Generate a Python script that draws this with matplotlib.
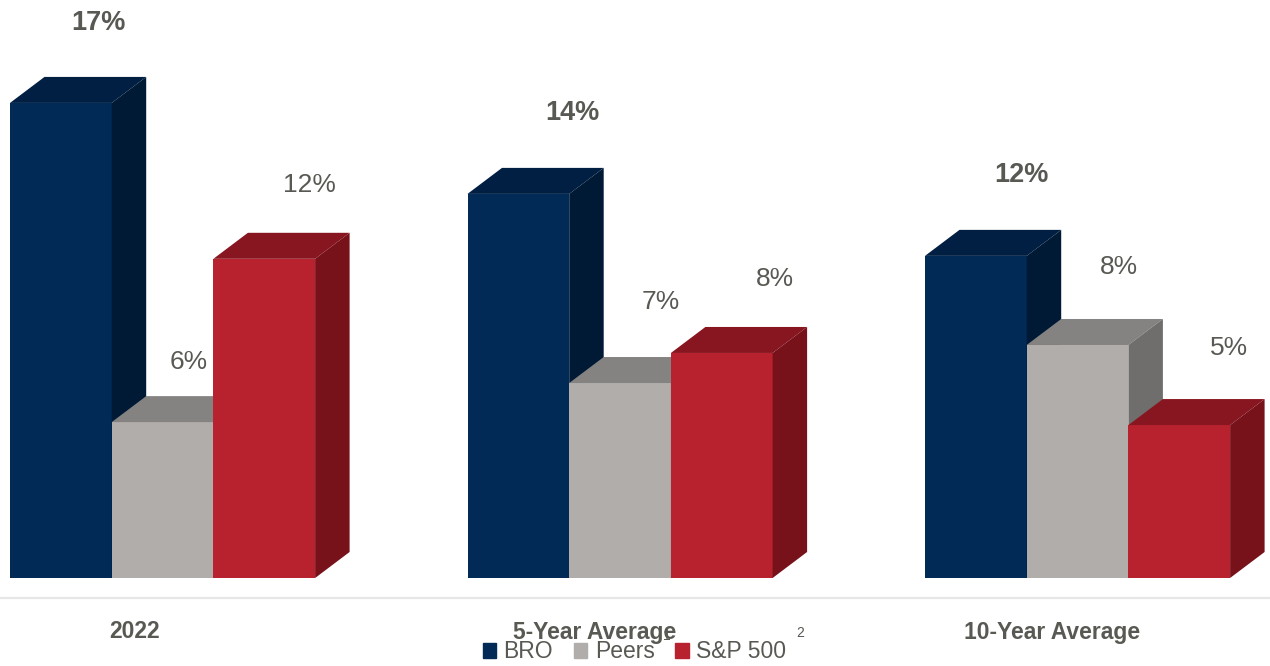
import matplotlib
matplotlib.use('Agg')
import matplotlib.pyplot as plt
from matplotlib.patches import Patch, Polygon

plt.rcParams['font.family'] = ['Liberation Sans', 'DejaVu Sans']

categories = ['2022', '5-Year Average', '10-Year Average']
bro = [17.86, 14.44, 12.11]
peers = [5.86, 7.33, 8.76]
sp500 = [12.0, 8.46, 5.75]
bro_labels = ['17%', '14%', '12%']
peers_labels = ['6%', '7%', '8%']
sp500_labels = ['12%', '8%', '5%']

# front, top, side
navy = ['#012A56', '#001F42', '#001A36']
grey = ['#B0ADAB', '#858381', '#6F6E6C']
red = ['#B8212E', '#881620', '#78121A']
text_col = '#595954'

px_per_unit = 26.6
baseline = 578
group_x = [10, 467.5, 925]
bar_w = 101.7
depth_x = 34.5
depth_y = 26 / px_per_unit

# label offsets from the top of each bar, in pixels
bro_off = [(38, 80), (54, 81), (46, 81)]
peers_off = [(26, 60), (41, 81), (41, 78)]
sp500_off = [(45, 74), (53, 74), (50, 77)]

fig = plt.figure(figsize=(12.7, 6.66), dpi=100)
ax = fig.add_axes([0, 0, 1, 1])
ax.set_xlim(0, 1270)
ax.set_ylim(-(666 - baseline) / px_per_unit, baseline / px_per_unit)
ax.axis('off')


def bar3d(x, v, cols):
    ax.bar(x, v, width=bar_w, align='edge', color=cols[0], linewidth=0, zorder=3)
    r = x + bar_w
    ax.add_patch(Polygon([(x, v), (x + depth_x, v + depth_y), (r + depth_x, v + depth_y), (r, v)],
                         closed=True, fc=cols[1], ec='none', zorder=3))
    ax.add_patch(Polygon([(r, 0), (r + depth_x, depth_y), (r + depth_x, v + depth_y), (r, v)],
                         closed=True, fc=cols[2], ec='none', zorder=3))


series = [(bro, navy, bro_labels, bro_off, 'bold', 19.5),
          (peers, grey, peers_labels, peers_off, 'normal', 19),
          (sp500, red, sp500_labels, sp500_off, 'normal', 19)]

for g in range(3):
    for s, (vals, cols, labs, off, weight, size) in enumerate(series):
        x = group_x[g] + s * bar_w
        bar3d(x, vals[g], cols)
        ax.annotate(labs[g], xy=(x + bar_w / 2, vals[g]), xytext=off[g],
                    textcoords='offset pixels', ha='center', va='center',
                    fontsize=size, fontweight=weight, color=text_col, zorder=5)

# floor line
ax.axhline(-(598 - baseline) / px_per_unit, color='#E6E6E6', lw=1.6, zorder=1)

cat_centres = [135, 595, 1052]
for cx, c in zip(cat_centres, categories):
    ax.text(cx, -(632 - baseline) / px_per_unit, c, ha='center', va='center',
            fontsize=16.5, fontweight='bold', color=text_col, zorder=4)

handles = [Patch(color=navy[0], label='BRO'), Patch(color=grey[0], label='Peers'),
           Patch(color=red[0], label='S&P 500')]
leg = ax.legend(handles=handles, ncol=3, loc='center', frameon=False,
                bbox_to_anchor=(634.5 / 1270, 1 - 652 / 666),
                fontsize=16.5, handlelength=0.59, handleheight=0.59,
                handletextpad=0.33, columnspacing=0.9, labelcolor=text_col,
                borderpad=0, borderaxespad=0)
leg.set_zorder(6)

# footnote markers
ax.text(667, -(636 - baseline) / px_per_unit, '1', ha='center', va='center',
        fontsize=10, color=text_col, zorder=7)
ax.text(800, -(633 - baseline) / px_per_unit, '2', ha='center', va='center',
        fontsize=10, color=text_col, zorder=7)

fig.savefig('out.png', dpi=100, facecolor='white')
